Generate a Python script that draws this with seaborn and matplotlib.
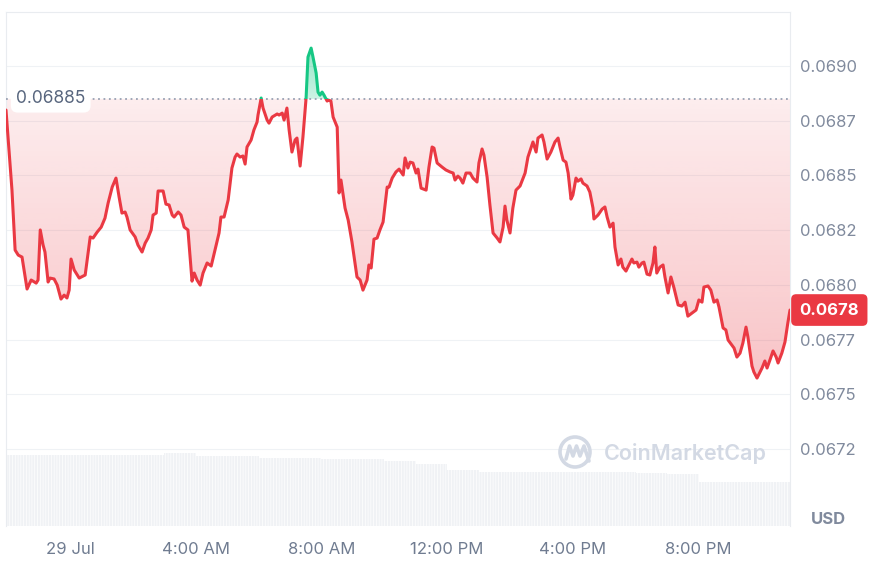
import numpy as np
import matplotlib
matplotlib.use("Agg")
import matplotlib.pyplot as plt
import matplotlib.colors as mcolors
import matplotlib.transforms as mtransforms
from matplotlib.patches import Rectangle, Circle
from matplotlib.path import Path
import seaborn as sns

# time in hours after 29 Jul 00:00, price in USD
hours = [
    -2.04, -1.97, -1.85, -1.75, -1.65, -1.53, -1.37, -1.24, -1.18, -1.08, -1.02, -0.95, -0.86, -0.80,
    -0.70, -0.64, -0.51, -0.41, -0.29, -0.19, -0.10, -0.03, 0.03, 0.13, 0.29, 0.41, 0.48, 0.57, 0.64,
    0.73, 0.86, 0.99, 1.11, 1.21, 1.34, 1.46, 1.56, 1.65, 1.75, 1.81, 1.91,
    2.07, 2.16, 2.29, 2.39, 2.48, 2.58, 2.64, 2.74, 2.80, 2.96, 3.05, 3.15, 3.25, 3.31, 3.44, 3.53,
    3.63, 3.75, 3.88, 3.95, 4.04, 4.14, 4.23, 4.36, 4.49, 4.61, 4.74, 4.80, 4.90, 5.03, 5.15, 5.25,
    5.31, 5.41, 5.50, 5.57, 5.63, 5.76, 5.85, 5.95, 5.98, 6.08,
    6.14, 6.27, 6.33, 6.43, 6.59, 6.65, 6.75, 6.81, 6.90, 6.97, 7.06, 7.16, 7.22, 7.32, 7.41, 7.51,
    7.57, 7.67, 7.73, 7.83, 7.89, 7.95, 8.02, 8.08, 8.18, 8.21, 8.30, 8.37, 8.50, 8.56, 8.62, 8.75,
    8.85, 8.97, 9.13, 9.23, 9.32, 9.45, 9.51, 9.58, 9.67, 9.77, 9.86, 9.96, 10.09, 10.15,
    10.25, 10.37, 10.47, 10.60, 10.66, 10.75, 10.82, 10.91, 11.01, 11.07, 11.17, 11.33, 11.42, 11.52,
    11.58, 11.68, 11.84, 11.96, 12.09, 12.19, 12.25, 12.34, 12.41, 12.50, 12.60, 12.73, 12.82, 12.95,
    13.01, 13.11, 13.17, 13.27, 13.36, 13.46, 13.59, 13.68, 13.78, 13.84, 13.90, 14.00, 14.09, 14.19,
    14.32,
    14.48, 14.57, 14.73, 14.83, 14.89, 15.02, 15.08, 15.18, 15.30, 15.43, 15.53, 15.59, 15.69, 15.78,
    15.85, 15.94, 16.00, 16.10, 16.16, 16.26, 16.32, 16.45, 16.54, 16.64, 16.67, 16.80, 16.93, 17.02,
    17.09, 17.18, 17.28, 17.34, 17.44, 17.53, 17.59, 17.69, 17.75, 17.88, 17.94, 18.04, 18.10, 18.20,
    18.26, 18.36, 18.45,
    18.55, 18.61, 18.67, 18.77, 18.87, 18.93, 19.03, 19.12, 19.22, 19.35, 19.47, 19.57, 19.66, 19.79,
    19.92, 20.01, 20.11, 20.17, 20.30, 20.39, 20.49, 20.59, 20.65, 20.78, 20.87, 20.94, 21.06, 21.13,
    21.22, 21.32, 21.41, 21.51, 21.57, 21.70, 21.76, 21.86, 22.02, 22.11, 22.18, 22.27, 22.37, 22.47,
    22.53, 22.65, 22.75, 22.84, 22.91,
]
prices = [
    0.068799, 0.068662, 0.068433, 0.068159, 0.068136, 0.068127, 0.067981, 0.068022, 0.068017, 0.068008,
    0.068022, 0.068251, 0.068182, 0.068150, 0.068013, 0.068031, 0.068027, 0.067999, 0.067935, 0.067953,
    0.067940, 0.067976, 0.068118, 0.068068, 0.068031, 0.068040, 0.068045, 0.068145, 0.068219, 0.068214,
    0.068241, 0.068264, 0.068305, 0.068374, 0.068447, 0.068488, 0.068401, 0.068328, 0.068333, 0.068310,
    0.068251,
    0.068219, 0.068182, 0.068150, 0.068191, 0.068214, 0.068251, 0.068319, 0.068328, 0.068429, 0.068429,
    0.068369, 0.068365, 0.068319, 0.068310, 0.068333, 0.068319, 0.068264, 0.068251, 0.068017, 0.068054,
    0.068022, 0.067999, 0.068054, 0.068100, 0.068086, 0.068159, 0.068237, 0.068310, 0.068310, 0.068388,
    0.068534, 0.068584, 0.068598, 0.068584, 0.068589, 0.068552, 0.068630, 0.068662, 0.068708, 0.068744,
    0.068776, 0.068854,
    0.068808, 0.068753, 0.068739, 0.068767, 0.068781, 0.068776, 0.068785, 0.068753, 0.068808, 0.068708,
    0.068607, 0.068662, 0.068671, 0.068543, 0.068676, 0.068854, 0.069041, 0.069082, 0.069041, 0.068968,
    0.068881, 0.068867, 0.068881, 0.068867, 0.068840, 0.068845, 0.068840, 0.068767, 0.068721, 0.068420,
    0.068479, 0.068351, 0.068296, 0.068196, 0.068036, 0.068022, 0.067976, 0.068022, 0.068091, 0.068077,
    0.068209, 0.068214, 0.068251, 0.068287, 0.068447, 0.068447,
    0.068488, 0.068516, 0.068529, 0.068502, 0.068580, 0.068534, 0.068561, 0.068557, 0.068511, 0.068529,
    0.068442, 0.068433, 0.068538, 0.068630, 0.068625, 0.068557, 0.068538, 0.068525, 0.068516, 0.068511,
    0.068479, 0.068497, 0.068488, 0.068465, 0.068511, 0.068511, 0.068488, 0.068470, 0.068557, 0.068621,
    0.068593, 0.068493, 0.068365, 0.068237, 0.068214, 0.068196, 0.068264, 0.068360, 0.068296, 0.068237,
    0.068351, 0.068433, 0.068452,
    0.068511, 0.068584, 0.068653, 0.068607, 0.068671, 0.068685, 0.068653, 0.068575, 0.068607, 0.068653,
    0.068671, 0.068630, 0.068570, 0.068561, 0.068511, 0.068392, 0.068410, 0.068488, 0.068474, 0.068484,
    0.068465, 0.068452, 0.068424, 0.068351, 0.068301, 0.068319, 0.068346, 0.068356, 0.068310, 0.068264,
    0.068282, 0.068173, 0.068091, 0.068118, 0.068081, 0.068063, 0.068081, 0.068118, 0.068100, 0.068104,
    0.068081, 0.068100, 0.068104, 0.068049, 0.068045,
    0.068100, 0.068173, 0.068054, 0.068081, 0.068091, 0.068036, 0.067963, 0.068036, 0.067985, 0.067908,
    0.067903, 0.067921, 0.067857, 0.067871, 0.067885, 0.067931, 0.067921, 0.067990, 0.067995, 0.067976,
    0.067921, 0.067931, 0.067899, 0.067803, 0.067794, 0.067748, 0.067725, 0.067711, 0.067670, 0.067688,
    0.067734, 0.067807, 0.067762, 0.067629, 0.067602, 0.067574, 0.067620, 0.067652, 0.067620, 0.067656,
    0.067698, 0.067670, 0.067643, 0.067688, 0.067739, 0.067825, 0.067885,
]
open_price = 0.06885
open_label = "0.06885"
last_label = "0.0678"

# hourly volume bars (relative units)
vol_hours = list(range(-2, 23))
volume = [71, 71, 71, 71, 71, 73, 70, 70, 68, 68, 67, 67, 65, 62, 56,
          54, 54, 54, 54, 54, 53, 52, 44, 44, 44]

ytick_vals = [0.06725, 0.0675, 0.06775, 0.068, 0.06825, 0.0685, 0.06875, 0.069]
ytick_labels = ["0.0672", "0.0675", "0.0677", "0.0680", "0.0682", "0.0685", "0.0687", "0.0690"]
xtick_vals = [0, 4, 8, 12, 16, 20]
xtick_labels = ["29 Jul", "4:00 AM", "8:00 AM", "12:00 PM", "4:00 PM", "8:00 PM"]

RED = "#ea3943"
GREEN = "#16c784"
GRID = "#eff2f5"
TICK = "#808a9d"

sns.set_theme(style="white")
plt.rcParams["font.family"] = ["Inter", "DejaVu Sans"]
plt.rcParams["hatch.linewidth"] = 0.5
plt.rcParams["hatch.color"] = "white"

W, H = 870, 561
fig = plt.figure(figsize=(W / 100, H / 100), dpi=100, facecolor="white")
x0, x1, y_top, y_bot = 6, 790, 12, 526
rect = [x0 / W, (H - y_bot) / H, (x1 - x0) / W, (y_bot - y_top) / H]

# volume bars
vax = fig.add_axes([rect[0], rect[1], rect[2], 100 / H], zorder=0)
vax.bar(np.array(vol_hours) + 0.5, volume, width=1.0, color="#f0f2f5",
        edgecolor="white", linewidth=0, hatch="||||||")
vax.set_xlim(-2.04, 22.91)
vax.set_ylim(0, 100)
vax.axis("off")

ax = fig.add_axes(rect, zorder=1)
ax.patch.set_alpha(0)
xmin, xmax = -2.04, 22.91
ymin, ymax = 0.066898, 0.069247

x = np.array(hours)
y = np.array(prices)


def gradient_fill(mask, color, a_near, a_far, far):
    coll = ax.fill_between(x, y, open_price, where=mask, interpolate=True,
                           facecolor="none", edgecolor="none")
    path = Path.make_compound_path(*coll.get_paths())
    lo, hi = sorted([open_price, far])
    rgba = np.zeros((256, 1, 4))
    rgba[..., :3] = mcolors.to_rgb(color)
    if far < open_price:
        rgba[:, 0, 3] = np.linspace(a_far, a_near, 256)
    else:
        rgba[:, 0, 3] = np.linspace(a_near, a_far, 256)
    im = ax.imshow(rgba, extent=[xmin, xmax, lo, hi], origin="lower",
                   aspect="auto", zorder=1, interpolation="bilinear")
    im.set_clip_path(path, transform=ax.transData)


gradient_fill(y <= open_price, RED, 0.09, 0.30, y.min())
gradient_fill(y >= open_price, GREEN, 0.22, 0.45, y.max())

# price line, red below the open price and green above it
sns.lineplot(x=hours, y=prices, color=RED, lw=2.2, ax=ax, estimator=None, sort=False, zorder=4)
red_line = ax.lines[-1]
red_line.set_clip_path(Rectangle((xmin, ymin), xmax - xmin, open_price - ymin, transform=ax.transData))
sns.lineplot(x=hours, y=prices, color=GREEN, lw=2.2, ax=ax, estimator=None, sort=False, zorder=4)
green_line = ax.lines[-1]
green_line.set_clip_path(Rectangle((xmin, open_price), xmax - xmin, ymax - open_price, transform=ax.transData))
for ln in (red_line, green_line):
    ln.set_solid_joinstyle("round")
    ln.set_solid_capstyle("round")

ax.axhline(open_price, color="#98a1b3", lw=1.3, ls=(0, (1, 2.0)), zorder=3)

ax.set_xlim(xmin, xmax)
ax.set_ylim(ymin, ymax)
ax.set_yticks(ytick_vals, ytick_labels)
ax.set_xticks(xtick_vals, xtick_labels)
ax.yaxis.tick_right()
ax.tick_params(axis="y", length=0, pad=7, labelsize=12, labelcolor=TICK)
ax.tick_params(axis="x", length=0, pad=11.5, labelsize=12, labelcolor="#707c91")
ax.grid(axis="y", color=GRID, lw=0.8)
ax.grid(axis="x", visible=False)
ax.set_xlabel("")
ax.set_ylabel("")
ax.spines["bottom"].set_visible(False)
for s in ("top", "left", "right"):
    ax.spines[s].set_color("#e9ecf0")
    ax.spines[s].set_linewidth(0.8)

blend = mtransforms.blended_transform_factory(ax.transAxes, ax.transData)
ax.text((16 - x0) / (x1 - x0), open_price, open_label, transform=blend, ha="left", va="center",
        fontsize=12.5, color="#58667e", zorder=6,
        bbox=dict(boxstyle="round,pad=0.3,rounding_size=0.4", fc="white", ec="none"))
ax.text((799.5 - x0) / (x1 - x0), prices[-1], last_label, transform=blend, ha="left", va="center",
        fontsize=12, fontweight="bold", color="white", zorder=10, clip_on=False,
        bbox=dict(boxstyle="round,pad=0.5,rounding_size=0.3", fc=RED, ec="none"))

fig.text(828 / W, 1 - 520 / H, "USD", ha="center", va="center", fontsize=12,
         fontweight="bold", color=TICK)

# watermark
ov = fig.add_axes([0, 0, 1, 1], zorder=2)
ov.set_xlim(0, W)
ov.set_ylim(H, 0)
ov.axis("off")
ov.patch.set_alpha(0)
WM = "#d3d9e4"
ov.add_patch(Circle((575, 452), 15, fill=False, lw=2.6, ec=WM))
ov.plot([566, 569.5, 573, 576.5, 580, 584, 589],
        [459, 446, 456, 446, 456, 446, 461], color=WM, lw=2.6,
        solid_joinstyle="round", solid_capstyle="round")
ov.text(604, 453, "CoinMarketCap", ha="left", va="center", fontsize=15.5,
        fontweight="semibold", color=WM)

fig.savefig("out.png", dpi=100, facecolor="white")
